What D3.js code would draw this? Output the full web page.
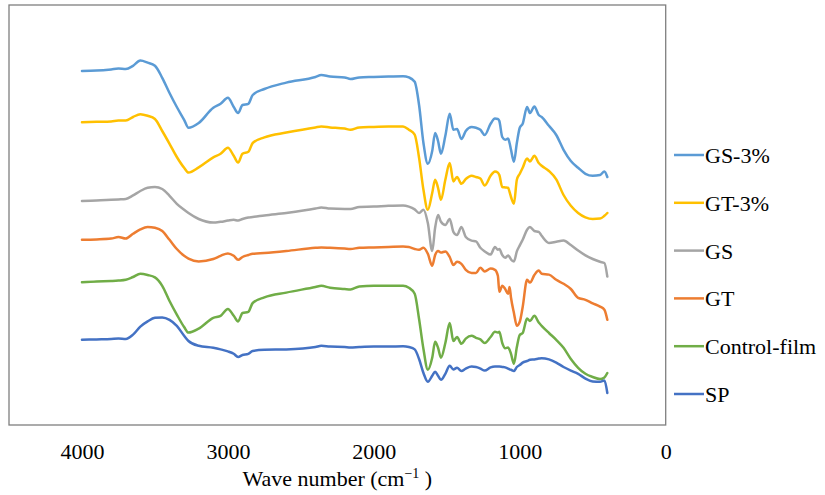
<!DOCTYPE html>
<html>
<head>
<meta charset="utf-8">
<script src="https://cdn.jsdelivr.net/npm/d3@7"></script>
<style>
  body { margin: 0; background: #fff; }
  svg text { font-family: "Liberation Serif", "Times New Roman", serif; fill: #000; }
</style>
</head>
<body>
<div id="chart"></div>
<script>
// wave numbers (cm-1) shared by every spectrum
const waveNumbers = [4000, 3900, 3800, 3750, 3700, 3650, 3600, 3550, 3500, 3450,
    3400, 3350, 3300, 3270, 3200, 3100, 3050, 3000, 2960, 2930,
    2900, 2860, 2830, 2750, 2600, 2400, 2360, 2300, 2200, 2160,
    2100, 2000, 1900, 1800, 1760, 1720, 1690, 1660, 1630, 1600,
    1580, 1560, 1540, 1510, 1480, 1455, 1430, 1400, 1370, 1330,
    1300, 1270, 1240, 1200, 1170, 1150, 1140, 1120, 1100, 1080,
    1070, 1060, 1040, 1020, 1000, 980, 950, 930, 900, 870,
    850, 800, 750, 700, 650, 600, 550, 500, 450, 420, 400];

// transmittance, arbitrary units (spectra are offset)
const gs3 = [88.5, 88.6, 88.9, 89.1, 89.0, 89.8, 91.1, 90.6, 89.8, 86.8,
    83.0, 79.5, 76.3, 74.3, 75.5, 79.3, 80.3, 81.8, 79.5, 78.0,
    80.0, 80.3, 82.5, 84.0, 85.6, 87.0, 87.5, 87.1, 86.9, 86.5,
    86.9, 87.0, 87.1, 87.2, 86.9, 85.8, 80.0, 70.5, 65.3, 68.5,
    73.0, 71.0, 67.8, 72.3, 77.8, 73.8, 74.0, 71.5, 73.5, 74.5,
    74.3, 73.8, 72.5, 75.3, 76.6, 76.5, 76.0, 72.0, 71.3, 71.6,
    70.5, 68.8, 65.8, 70.5, 74.3, 75.3, 79.5, 78.0, 79.6, 77.5,
    77.0, 74.8, 72.5, 68.8, 66.0, 64.3, 62.8, 62.3, 62.5, 63.4, 62.0];

const gt3 = [75.7, 75.8, 75.9, 76.1, 76.1, 77.0, 77.7, 77.3, 76.5, 73.5,
    70.3, 67.0, 64.3, 63.1, 64.4, 66.9, 67.8, 69.3, 67.3, 65.6,
    67.8, 68.3, 70.5, 71.9, 73.1, 74.4, 74.6, 74.4, 74.1, 73.8,
    74.4, 74.5, 74.6, 74.6, 73.8, 72.6, 66.8, 58.8, 53.8, 58.0,
    61.3, 59.3, 56.3, 61.3, 65.5, 60.9, 62.0, 60.3, 61.5, 62.3,
    62.0, 61.6, 59.9, 62.3, 63.4, 63.1, 62.5, 59.5, 59.4, 59.3,
    58.3, 57.0, 55.3, 61.3, 62.8, 64.3, 66.6, 65.9, 67.3, 65.5,
    64.8, 63.5, 61.4, 57.5, 54.8, 53.0, 51.9, 51.5, 51.6, 52.3, 53.0];

const gs = [56.0, 56.1, 56.3, 56.4, 56.5, 57.4, 58.5, 59.3, 59.5, 59.0,
    57.3, 55.3, 53.8, 53.0, 51.5, 50.6, 50.8, 51.1, 51.3, 51.1,
    51.5, 51.9, 52.0, 52.4, 53.0, 54.1, 54.4, 54.1, 54.0, 54.0,
    54.5, 54.6, 54.8, 54.9, 54.6, 53.9, 53.0, 53.8, 50.5, 43.5,
    49.3, 52.5, 50.8, 50.0, 51.5, 48.3, 47.5, 49.5, 47.0, 46.1,
    45.9, 44.3, 43.4, 42.6, 44.5, 43.8, 44.0, 42.5, 41.8, 42.4,
    42.0, 41.4, 40.9, 43.4, 44.9, 46.3, 48.8, 49.5, 48.5, 48.3,
    47.3, 45.5, 45.8, 46.1, 45.0, 43.6, 42.4, 41.5, 40.8, 40.5, 37.1];

const gt = [46.3, 46.4, 46.6, 47.0, 46.6, 47.8, 48.9, 49.5, 49.3, 48.5,
    46.3, 44.0, 42.3, 41.6, 40.9, 41.5, 42.3, 42.9, 42.3, 41.3,
    42.0, 42.5, 42.8, 43.0, 43.5, 44.3, 44.4, 44.3, 44.1, 44.0,
    44.3, 44.4, 44.5, 44.6, 44.5, 44.0, 43.8, 44.3, 42.8, 39.8,
    42.5, 43.5, 43.1, 43.4, 42.0, 40.0, 40.8, 40.3, 38.8, 38.0,
    38.0, 39.3, 38.4, 39.1, 38.8, 37.3, 33.3, 34.8, 34.0, 32.8,
    34.5, 31.8, 28.0, 24.8, 25.8, 29.5, 36.3, 35.6, 37.5, 38.6,
    37.8, 37.6, 36.3, 35.3, 34.0, 31.8, 31.3, 30.4, 29.6, 28.8, 26.3];

const controlFilm = [35.7, 35.9, 36.0, 36.1, 36.3, 37.0, 37.8, 37.5, 36.9, 34.8,
    31.0, 27.6, 24.5, 23.1, 24.1, 26.8, 27.3, 29.0, 27.3, 25.9,
    28.0, 28.3, 30.5, 31.9, 33.1, 34.5, 34.8, 34.3, 34.0, 33.9,
    34.6, 34.8, 34.8, 34.8, 34.3, 32.8, 26.5, 19.0, 13.8, 16.8,
    20.8, 19.3, 16.8, 20.5, 25.5, 21.0, 22.0, 20.3, 21.6, 22.3,
    21.8, 21.4, 20.5, 22.0, 23.3, 23.1, 23.3, 20.5, 19.2, 19.4,
    18.8, 17.8, 15.3, 19.5, 22.5, 23.0, 26.6, 26.0, 27.3, 25.6,
    24.8, 23.0, 21.3, 19.3, 16.5, 14.3, 12.8, 12.0, 11.5, 11.9, 13.0];

const sp = [21.3, 21.4, 21.5, 21.6, 21.5, 22.6, 24.6, 25.9, 26.8, 26.9,
    26.3, 24.8, 22.3, 21.0, 19.8, 19.3, 18.9, 18.4, 17.8, 17.0,
    17.5, 17.8, 18.5, 18.8, 18.9, 19.5, 19.8, 19.6, 19.5, 19.4,
    19.5, 19.6, 19.6, 19.7, 19.5, 18.9, 16.5, 13.0, 10.8, 12.3,
    13.3, 12.3, 11.3, 12.8, 14.8, 13.9, 14.3, 13.5, 14.1, 14.6,
    14.5, 14.1, 13.6, 14.4, 14.6, 14.6, 14.6, 14.5, 14.4, 14.1,
    13.9, 13.8, 13.5, 14.5, 15.0, 15.6, 16.0, 16.3, 16.4, 16.6,
    16.7, 16.4, 15.6, 14.5, 13.6, 12.8, 11.6, 10.9, 10.8, 11.1, 8.0];

const seriesNames = ["GS-3%", "GT-3%", "GS", "GT", "Control-film", "SP"];
const seriesValues = [gs3, gt3, gs, gt, controlFilm, sp];
const seriesColors = ["#5B9BD5", "#FFC000", "#A5A5A5", "#ED7D31", "#70AD47", "#4472C4"];
const xTicks = [4000, 3000, 2000, 1000, 0];

const width = 825, height = 495;
const plot = { left: 9, right: 665.7, top: 5, bottom: 425 };
const serif = '"Liberation Serif", "Times New Roman", serif';

const svg = d3.select("#chart").append("svg")
    .attr("width", width)
    .attr("height", height)
    .attr("font-family", serif);

//scales (reversed wave number axis)
const xScale = d3.scaleLinear().domain([4500, 0]).range([plot.left, plot.right]);
const yScale = d3.scaleLinear().domain([0, 105]).range([plot.bottom, plot.top]);

//plot area border
svg.append("rect")
    .attr("x", plot.left)
    .attr("y", plot.top)
    .attr("width", plot.right - plot.left)
    .attr("height", plot.bottom - plot.top)
    .attr("fill", "none")
    .attr("stroke", "#7f7f7f")
    .attr("stroke-width", 1.3);

//x axis labels only
const xAxis = d3.axisBottom(xScale).tickValues(xTicks).tickSize(0).tickPadding(0).tickFormat(d3.format("d"));
const axisGroup = svg.append("g")
    .attr("transform", `translate(0,${plot.bottom})`)
    .call(xAxis)
    .attr("font-family", serif)
    .attr("font-size", 22);
axisGroup.select(".domain").remove();
axisGroup.selectAll("text")
    .attr("y", 34)
    .attr("dy", null)
    .attr("fill", "#000");

//axis title
const title = svg.append("text")
    .attr("x", (plot.left + plot.right) / 2)
    .attr("y", 486)
    .attr("text-anchor", "middle")
    .attr("font-family", serif)
    .attr("font-size", 22);
title.append("tspan").text("Wave number (cm");
title.append("tspan").attr("dy", -8).attr("font-size", 14).text("\u22121");
title.append("tspan").attr("dy", 8).text(" )");

//lines
const line = d3.line()
    .x((d, i) => xScale(waveNumbers[i]))
    .y(d => yScale(d))
    .curve(d3.curveMonotoneX);

svg.append("g").attr("class", "lines")
    .selectAll("path")
    .data(seriesValues)
    .enter()
    .append("path")
    .attr("fill", "none")
    .attr("stroke", (d, i) => seriesColors[i])
    .attr("stroke-width", 2.5)
    .attr("stroke-linejoin", "round")
    .attr("stroke-linecap", "round")
    .attr("d", d => line(d));

//legend
const legend = svg.append("g").attr("class", "legend")
    .selectAll("g")
    .data(seriesNames)
    .enter()
    .append("g")
    .attr("transform", (d, i) => `translate(674,${155 + i * 47.8})`);

legend.append("line")
    .attr("x1", 0).attr("x2", 30)
    .attr("stroke", (d, i) => seriesColors[i])
    .attr("stroke-width", 2.5);

legend.append("text")
    .attr("x", 31)
    .attr("y", 8)
    .attr("font-family", serif)
    .attr("font-size", 22)
    .text(d => d);
</script>
</body>
</html>
